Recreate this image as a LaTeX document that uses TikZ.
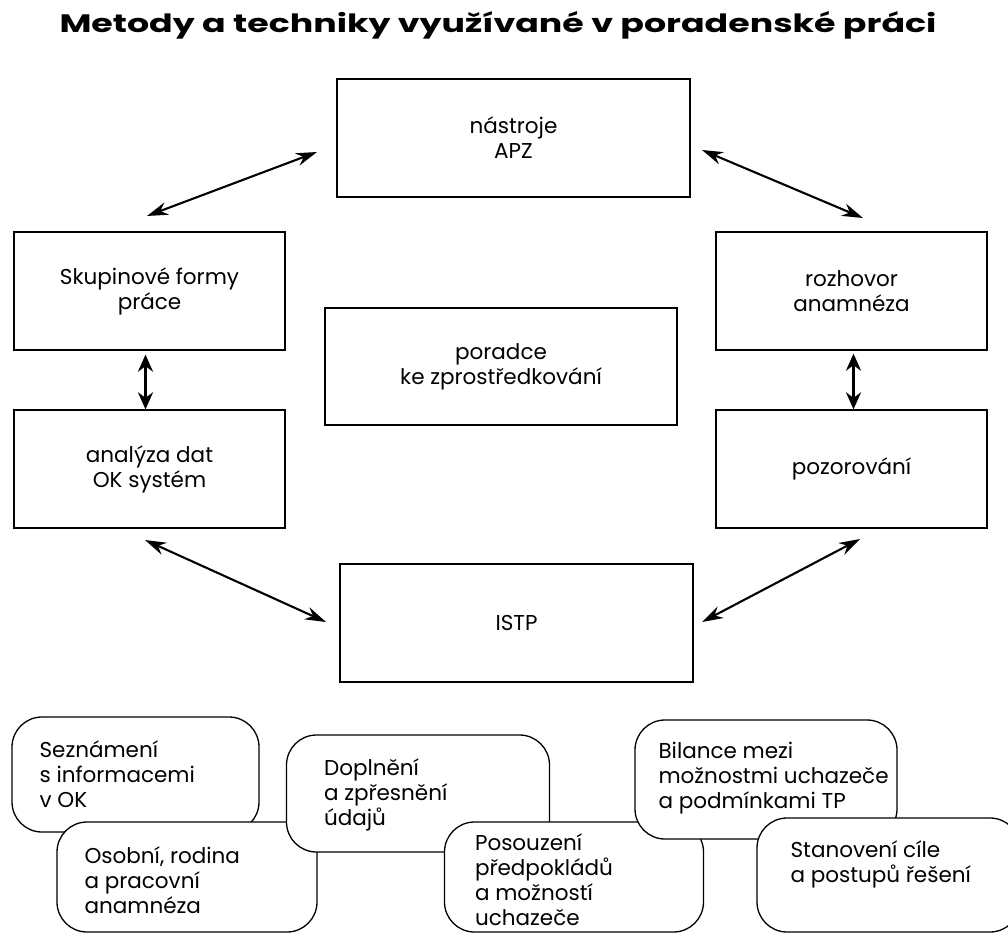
\documentclass[tikz,border=0pt]{standalone}
\usepackage{fontspec}
\usepackage{graphicx}
\setmainfont{Poppins}
\usetikzlibrary{arrows.meta}
\begin{document}
\begin{tikzpicture}[x=1pt,y=-1pt,
  box/.style={draw, line width=1.3pt, inner sep=0pt, align=center,
    minimum height=118pt, font=\fontsize{21.5}{25}\selectfont},
  rbox/.style={draw, line width=1.3pt, rounded corners=30pt, fill=white, inner sep=0pt},
  rtext/.style={anchor=west, align=left, inner sep=0pt, font=\fontsize{21.5}{25}\selectfont},
  link/.style={{Stealth[length=21pt,width=13pt]}-{Stealth[length=21pt,width=13pt]}, line width=2.1pt},
  vlink/.style={{Stealth[length=17pt,width=15pt]}-{Stealth[length=17pt,width=15pt]}, line width=2.8pt},
]
\useasboundingbox (0,0) rectangle (1008,933);
\clip (0,0) rectangle (1008,933);

\node[font=\fontsize{24}{26}\selectfont\bfseries, inner sep=0pt] (title) at (498,25)
  {\scalebox{1.45}[1.05]{Metody a techniky využívané v poradenské práci}};

\node[box, minimum width=353pt] (apz) at (513.5,138) {nástroje\\APZ};
\node[box, minimum width=271pt] (skup) at (149.5,291) {Skupinové formy\\práce};
\node[box, minimum width=271pt] (anal) at (149.5,469) {analýza dat\\OK systém};
\node[box, minimum width=271pt] (rozh) at (851.5,291) {rozhovor\\anamnéza};
\node[box, minimum width=271pt] (pozo) at (851.5,469) {pozorování};
\node[box, minimum width=352pt, minimum height=117pt] (por) at (501,366.5) {poradce\\ke zprostředkování};
\node[box, minimum width=353pt] (istp) at (516.5,623) {ISTP};

\coordinate (a1s) at (147,216);
\coordinate (a1e) at (317,152);
\coordinate (a2s) at (702,150);
\coordinate (a2e) at (863,218);
\coordinate (a4s) at (145,540);
\coordinate (a4e) at (326,622);
\coordinate (a5s) at (702,622);
\coordinate (a5e) at (860,539);

\draw[link] (a1s) -- (a1e);
\draw[link] (a2s) -- (a2e);
\draw[link] (a4s) -- (a4e);
\draw[link] (a5s) -- (a5e);
\draw[vlink] ([xshift=-4pt,yshift=-4pt]skup.south) -- ([xshift=-4pt]anal.north);
\draw[vlink] ([xshift=2pt,yshift=-3pt]rozh.south) -- ([xshift=2pt]pozo.north);

\node[rbox, minimum width=247pt, minimum height=115pt] (r1) at (135.5,774.5) {};
\node[rtext] (t1) at ([xshift=28pt]r1.west) {Seznámení\\s informacemi\\v OK};
\node[rbox, minimum width=260pt, minimum height=110pt] (r2) at (187,877) {};
\node[rtext] (t2) at ([xshift=28pt,yshift=-3pt]r2.west) {Osobní, rodina\\a pracovní\\anamnéza};
\node[rbox, minimum width=263pt, minimum height=117pt] (r3) at (418,793.5) {};
\node[rtext] (t3) at ([xshift=38pt,yshift=-1.5pt]r3.west) {Doplnění\\a zpřesnění\\údajů};
\node[rbox, minimum width=259pt, minimum height=110pt] (r4) at (574,877) {};
\node[rtext] (t4) at ([xshift=31pt,yshift=-3pt]r4.west) {Posouzení\\předpokládů\\a možností\\uchazeče};
\node[rbox, minimum width=262pt, minimum height=119pt] (r5) at (766,779.5) {};
\node[rtext] (t5) at ([xshift=24pt,yshift=1.5pt]r5.west) {Bilance mezi\\možnostmi uchazeče\\a podmínkami TP};
\node[rbox, minimum width=263pt, minimum height=114pt] (r6) at (888.5,875) {};
\node[rtext] (t6) at ([xshift=34pt,yshift=10.5pt]r6.west) {Stanovení cíle\\a postupů řešení};
\end{tikzpicture}
\end{document}
